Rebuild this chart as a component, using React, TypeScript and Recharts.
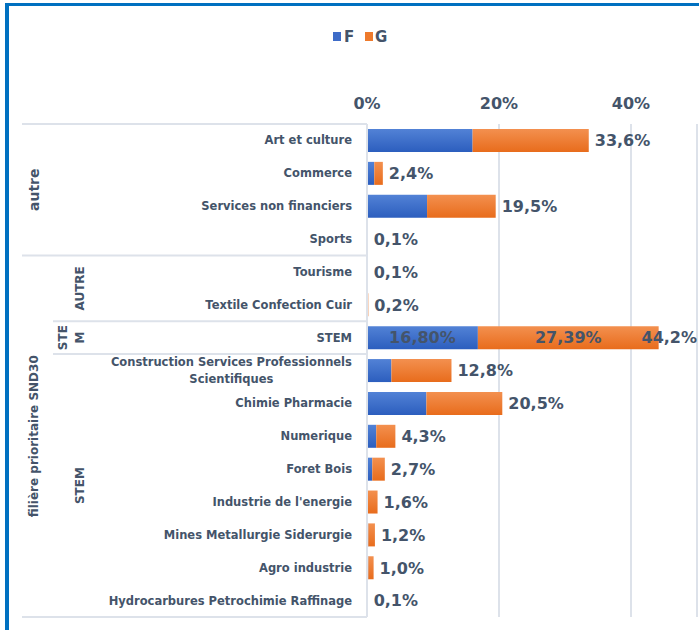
import React from "react";
import { BarChart, Bar, XAxis, YAxis, CartesianGrid, LabelList } from "recharts";

const categories = [
  "Art et culture",
  "Commerce",
  "Services non financiers",
  "Sports",
  "Tourisme",
  "Textile Confection Cuir",
  "STEM",
  "Construction Services Professionnels Scientifiques",
  "Chimie Pharmacie",
  "Numerique",
  "Foret Bois",
  "Industrie de l'energie",
  "Mines Metallurgie Siderurgie",
  "Agro industrie",
  "Hydrocarbures Petrochimie Raffinage",
];

// share of F and G in each filière
const valuesF = [0.16, 0.011, 0.091, 0.0005, 0.0005, 0.0002, 0.168, 0.037, 0.09, 0.014, 0.008, 0.001, 0.002, 0.002, 0.0005];
const valuesG = [0.176, 0.013, 0.104, 0.0005, 0.0005, 0.0018, 0.2739, 0.091, 0.115, 0.029, 0.019, 0.015, 0.01, 0.008, 0.0005];
const totals = ["33,6%", "2,4%", "19,5%", "0,1%", "0,1%", "0,2%", "44,2%", "12,8%", "20,5%", "4,3%", "2,7%", "1,6%", "1,2%", "1,0%", "0,1%"];
const labelsF = ["", "", "", "", "", "", "16,80%", "", "", "", "", "", "", "", ""];
const labelsG = ["", "", "", "", "", "", "27,39%", "", "", "", "", "", "", "", ""];
const xTicks = [0, 0.2, 0.4];

// hierarchical groups of the category axis (row ranges, inclusive)
const outerGroups = [
  { label: "autre", from: 0, to: 3, size: 14 },
  { label: "filière prioritaire SND30", from: 4, to: 14, size: 12 },
];
const innerGroups = [
  { label: "AUTRE", from: 4, to: 5 },
  { label: "STE|M", from: 6, to: 6 },
  { label: "STEM", from: 7, to: 14 },
];

const W = 699;
const H = 630;
const TOP = 124;
const BOTTOM = 13;
const LEFT = 367;
const TEXT = "#44546A";
const FONT = "DejaVu Sans";

const data = categories.map((name, i) => ({
  name,
  F: valuesF[i],
  G: valuesG[i],
  total: totals[i],
  lf: labelsF[i],
  lg: labelsG[i],
}));

const band = (H - TOP - BOTTOM) / categories.length;
const rowY = (i: number) => TOP + band * i;

function CategoryTick(props: any) {
  const { x, y, payload } = props;
  const text: string = payload.value;
  const right = x - 7;
  if (text.length <= 40) {
    return (
      <text x={right} y={y} dy="0.35em" textAnchor="end" fill={TEXT} fontFamily={FONT} fontWeight="bold" fontSize={11.5}>
        {text}
      </text>
    );
  }
  const cut = text.lastIndexOf(" ", 40);
  const lines = [text.slice(0, cut), text.slice(cut + 1)];
  const mid = right - (lines[0].length * 6.7) / 2;
  return (
    <text textAnchor="middle" fill={TEXT} fontFamily={FONT} fontWeight="bold" fontSize={11.5}>
      {lines.map((l, k) => (
        <tspan key={k} x={mid} y={y - 8.5 + k * 17} dy="0.35em">
          {l}
        </tspan>
      ))}
    </text>
  );
}

function TotalLabel(props: any) {
  const { x, y, width, height, value } = props;
  const s = String(value);
  const tw = 16 * (0.696 * (s.length - 2) + 0.38 + 1.0);
  const lx = Math.min(x + width + 6, W - 2 - tw);
  return (
    <text x={lx} y={y + height / 2} dy="0.36em" fill={TEXT} fontFamily={FONT} fontWeight="bold" fontSize={16}>
      {value}
    </text>
  );
}

function SegmentLabel(props: any) {
  const { x, y, width, height, value } = props;
  if (!value) return null;
  return (
    <text
      x={x + width / 2}
      y={y + height / 2}
      dy="0.36em"
      textAnchor="middle"
      fill={TEXT}
      fontFamily={FONT}
      fontWeight="bold"
      fontSize={16}
    >
      {value}
    </text>
  );
}

function Overlay() {
  const sep = "#dde2ea";
  const rotated = (label: string, x: number, from: number, to: number, size: number) => {
    const cy = (rowY(from) + rowY(to + 1)) / 2;
    const parts = label.split("|");
    return parts.map((p, k) => {
      const px = x + (k - (parts.length - 1) / 2) * 17;
      return (
        <text
          key={label + k}
          x={px}
          y={cy}
          transform={`rotate(-90 ${px} ${cy})`}
          textAnchor="middle"
          dominantBaseline="central"
          fill={TEXT}
          fontFamily={FONT}
          fontWeight="bold"
          fontSize={size}
        >
          {p}
        </text>
      );
    });
  };
  return (
    <svg width={W} height={H} style={{ position: "absolute", left: 0, top: 0, pointerEvents: "none" }}>
      <rect x={5} y={3} width={4} height={H - 3} fill="#0070C0" />
      <rect x={5} y={3} width={W - 5} height={3} fill="#0070C0" />
      <line x1={22} x2={LEFT} y1={rowY(0)} y2={rowY(0)} stroke={sep} strokeWidth={2} />
      <line x1={22} x2={LEFT} y1={rowY(4)} y2={rowY(4)} stroke={sep} strokeWidth={2} />
      <line x1={53} x2={LEFT} y1={rowY(6)} y2={rowY(6)} stroke={sep} strokeWidth={2} />
      <line x1={53} x2={LEFT} y1={rowY(7)} y2={rowY(7)} stroke={sep} strokeWidth={2} />
      <line x1={22} x2={LEFT} y1={rowY(15)} y2={rowY(15)} stroke={sep} strokeWidth={2} />
      {outerGroups.map((g) => rotated(g.label, 34, g.from, g.to, g.size))}
      {innerGroups.map((g) => rotated(g.label, 72 + (g.label.includes("|") ? 0 : 8), g.from, g.to, 12))}
      <rect x={333} y={32} width={8} height={9} fill="#3E6CC8" />
      <text x={344} y={42} fill={TEXT} fontFamily={FONT} fontWeight="bold" fontSize={15}>F</text>
      <rect x={365} y={32} width={8} height={9} fill="#EE7A2C" />
      <text x={375} y={42} fill={TEXT} fontFamily={FONT} fontWeight="bold" fontSize={15}>G</text>
    </svg>
  );
}

export default function App() {
  return (
    <div style={{ position: "absolute", left: 0, top: 0, width: W, height: H, background: "#fff" }}>
      <BarChart
        width={W}
        height={H}
        data={data}
        layout="vertical"
        barSize={23}
        margin={{ top: 0, right: 2, left: 0, bottom: BOTTOM }}
      >
        <defs>
          <linearGradient id="gradF" x1="0" y1="0" x2="0" y2="1">
            <stop offset="0%" stopColor="#5282D6" />
            <stop offset="100%" stopColor="#2C5EBE" />
          </linearGradient>
          <linearGradient id="gradG" x1="0" y1="0" x2="0" y2="1">
            <stop offset="0%" stopColor="#F3904F" />
            <stop offset="100%" stopColor="#E86C1C" />
          </linearGradient>
        </defs>
        <CartesianGrid horizontal={false} stroke="#dde2ea" strokeWidth={2} />
        <XAxis
          type="number"
          orientation="top"
          domain={[0, 0.5]}
          ticks={xTicks}
          height={TOP}
          axisLine={false}
          tickLine={false}
          tickFormatter={(v: number) => `${Math.round(v * 100)}%`}
          tick={{ fill: TEXT, fontFamily: FONT, fontWeight: "bold", fontSize: 16, dy: -7 }}
        />
        <YAxis
          type="category"
          dataKey="name"
          width={LEFT}
          axisLine={{ stroke: "#dde2ea", strokeWidth: 2 }}
          tickLine={false}
          interval={0}
          tick={<CategoryTick />}
        />
        <Bar dataKey="F" stackId="s" fill="url(#gradF)" isAnimationActive={false}>
          <LabelList dataKey="lf" content={<SegmentLabel />} />
        </Bar>
        <Bar dataKey="G" stackId="s" fill="url(#gradG)" isAnimationActive={false}>
          <LabelList dataKey="lg" content={<SegmentLabel />} />
          <LabelList dataKey="total" content={<TotalLabel />} />
        </Bar>
      </BarChart>
      <Overlay />
    </div>
  );
}
